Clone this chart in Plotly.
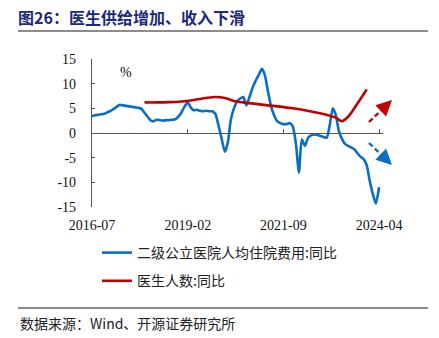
import pandas as pd
import plotly.graph_objects as go

# ---------------- data ----------------
blue_name = "二级公立医院人均住院费用:同比"
red_name = "医生人数:同比"

blue_start = "2016-07-01"
blue_values = [
    3.4, 3.6, 3.7, 3.8, 3.9, 4.2, 4.5, 4.9, 5.3, 5.7,
    5.6, 5.5, 5.4, 5.3, 5.2, 5.1, 4.9, 4.1, 3.3, 2.5,
    2.4, 2.7, 2.6, 2.5, 2.6, 2.6, 2.7, 2.8, 3.3, 4.2,
    5.4, 6.2, 5.2, 4.6, 4.7, 4.5, 4.4, 4.5, 4.4, 4.4,
    3.8, 1.5, -1.2, -3.8, -2.0, 2.8, 5.0, 6.4, 7.0, 7.3,
    5.6, 7.3, 9.2, 10.6, 11.8, 13.0, 11.8, 8.5, 5.5, 3.6,
    2.4, 2.0, 1.8, 1.8, 2.0, 1.4, -2.0, -8.0, -1.3, -2.6,
    -1.0, -0.5, -0.3, -0.4, -0.6, -0.8, -1.0, 1.5, 5.0, 3.5,
    0.5, -1.2, -2.2, -2.6, -2.9, -3.3, -4.1, -4.8, -5.3, -6.5,
    -9.8, -12.5, -14.3, -11.0,
]
blue_dates = pd.date_range(blue_start, periods=len(blue_values), freq="MS")

red_dates = [
    "2017-12-01", "2018-04-01", "2018-08-01", "2018-12-01", "2019-04-01",
    "2019-08-01", "2019-11-01", "2020-02-01", "2020-05-01", "2020-08-01",
    "2020-12-01", "2021-04-01", "2021-08-01", "2021-12-01", "2022-04-01",
    "2022-08-01", "2022-12-01", "2023-02-01", "2023-04-01", "2023-06-01",
    "2023-08-01", "2023-10-01", "2023-12-01",
]
red_values = [
    6.2, 6.2, 6.25, 6.4, 6.7,
    7.1, 7.3, 7.1, 6.5, 6.2,
    5.9, 5.6, 5.35, 5.0, 4.6,
    4.1, 3.5, 3.1, 2.4, 3.3,
    5.0, 6.9, 8.8,
]

x_tickvals = ["2016-07-01", "2019-02-01", "2021-09-01", "2024-04-01"]
x_ticktext = ["2016-07", "2019-02", "2021-09", "2024-04"]
x_range = ["2016-07-01", "2024-05-10"]
y_tickvals = [15, 10, 5, 0, -5, -10, -15]
y_ticktext = ["15", "10", "5", "0", "-5", "-10", "-15"]

title_text = "图26：医生供给增加、收入下滑"
source_text = "数据来源：Wind、开源证券研究所"
unit_text = "%"

BLUE = "#0A6FC2"
RED = "#C00000"
SERIF = "Liberation Serif, Times New Roman, serif"
CJK = "Noto Sans CJK SC, sans-serif"

# ---------------- figure ----------------
W, H = 439, 338
L, R, T, B = 92, 56, 59, 131
pw, ph = W - L - R, H - T - B


def px(x):
    return (x - L) / pw


def py(y):
    return (H - B - y) / ph


fig = go.Figure()
fig.add_trace(go.Scatter(
    x=blue_dates, y=blue_values, name=blue_name, mode="lines",
    line=dict(color=BLUE, width=2.6, shape="spline", smoothing=0.6),
    legendgroup="a",
))
fig.add_trace(go.Scatter(
    x=red_dates, y=red_values, name=red_name, mode="lines", xaxis="x2",
    line=dict(color=RED, width=2.6, shape="spline", smoothing=0.8),
    legendgroup="b",
))

fig.update_layout(
    width=W, height=H,
    margin=dict(l=L, r=R, t=T, b=B),
    paper_bgcolor="white", plot_bgcolor="white",
    showlegend=True,
    title=dict(
        text=title_text, x=18 / W, xanchor="left", xref="container",
        y=1 - 18 / H, yanchor="middle", yref="container",
        font=dict(family=CJK, size=16, color="#1B2A7E", weight="bold"),
    ),
    xaxis=dict(
        type="date", range=x_range, tickvals=x_tickvals, ticktext=x_ticktext,
        showline=False, ticks="", showgrid=False, zeroline=False,
        tickfont=dict(family=SERIF, size=14, color="#111"),
        ticklabelstandoff=8,
    ),
    xaxis2=dict(
        type="date", matches="x", overlaying="x", anchor="free", position=0.5,
        side="bottom", tickvals=x_tickvals, showticklabels=False,
        showline=True, linecolor="#555", linewidth=1.2,
        ticks="inside", ticklen=4, tickcolor="#555", showgrid=False, zeroline=False,
    ),
    yaxis=dict(
        range=[-15, 15], tickvals=y_tickvals, ticktext=y_ticktext,
        showline=True, linecolor="#555", linewidth=1.2,
        ticks="inside", ticklen=3, tickcolor="#555",
        showgrid=False, zeroline=False,
        tickfont=dict(family=SERIF, size=14, color="#111"),
        ticklabelstandoff=12,
    ),
    legend=dict(
        x=px(97), xanchor="left", y=py(237), yanchor="top",
        orientation="v", tracegroupgap=7,
        font=dict(family=CJK, size=14, color="#222"),
        bgcolor="rgba(0,0,0,0)",
    ),
)

# unit label
fig.add_annotation(
    text=unit_text, x=px(118), y=py(63), xref="paper", yref="paper",
    showarrow=False, font=dict(family=SERIF, size=14, color="#111"),
)

# rules under title and above source
for yy in (31, 308):
    fig.add_shape(type="line", xref="paper", yref="paper",
                  x0=px(18), x1=px(428), y0=py(yy), y1=py(yy),
                  line=dict(color="#8C8C8C", width=2))

# source
fig.add_annotation(
    text=source_text, x=px(18), y=py(323), xref="paper", yref="paper",
    xanchor="left", yanchor="middle", showarrow=False,
    font=dict(family=CJK, size=14, color="#222"),
)

# dashed trend arrows
arrows = [
    (RED, (369, 122), (392, 100)),
    (BLUE, (369, 143), (392, 165)),
]
for col, (sx, sy), (ex, ey) in arrows:
    dx, dy = ex - sx, ey - sy
    n = (dx * dx + dy * dy) ** 0.5
    ux, uy = dx / n, dy / n
    hx, hy = ex - ux * 9, ey - uy * 9
    fig.add_shape(type="line", xref="paper", yref="paper",
                  x0=px(sx), y0=py(sy), x1=px(hx), y1=py(hy),
                  line=dict(color=col, width=2.4, dash="5px,3px"))
    fig.add_annotation(
        x=px(ex), y=py(ey), xref="paper", yref="paper",
        ax=-ux * 11, ay=-uy * 11, axref="pixel", ayref="pixel",
        showarrow=True, arrowhead=2, arrowsize=1.3, arrowwidth=2.4,
        arrowcolor=col, text="",
    )

fig.write_html("out.html")
